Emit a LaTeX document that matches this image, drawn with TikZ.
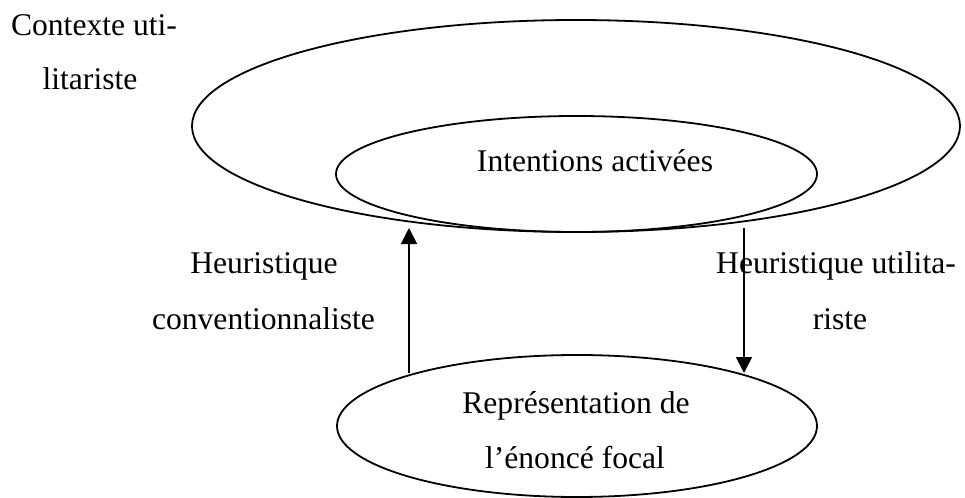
\documentclass[tikz,border=0pt]{standalone}
\usepackage{fontspec}
\setmainfont{Liberation Serif}
\usetikzlibrary{shapes.geometric,arrows.meta}
\begin{document}
\begin{tikzpicture}[x=0.5pt,y=-0.5pt,
  oval/.style={draw,ellipse,line width=0.9pt,inner sep=0pt},
  lbl/.style={anchor=base,inner sep=0pt,font=\fontsize{15.8pt}{19pt}\selectfont},
  arr/.style={line width=0.9pt,-{Triangle[length=8pt,width=8pt]}}]
\useasboundingbox (0,0) rectangle (965,498);
\node[oval,minimum width=384pt,minimum height=106pt] (ctx) at (576,126) {};
\node[oval,minimum width=240.5pt,minimum height=58pt] (int) at (576.5,174) {};
\node[oval,minimum width=240pt,minimum height=71pt] (rep) at (577,426) {};
\node[lbl] (c1) at (94,35) {Contexte uti-};
\node[lbl] (c2) at (90,90) {litariste};
\node[lbl] (i1) at (595,171) {Intentions activées};
\node[lbl] (r1) at (576,413) {Représentation de};
\node[lbl] (r2) at (575,468) {l’énoncé focal};
\node[lbl] (h1) at (264,273) {Heuristique};
\node[lbl] (h2) at (263.5,329) {conventionnaliste};
\node[lbl] (u1) at (836,273) {Heuristique utilita-};
\node[lbl] (u2) at (840,329) {riste};
\coordinate (upS) at (409,373);
\coordinate (upE) at (409,228);
\coordinate (dnS) at (744,228);
\coordinate (dnE) at (744,373);
\draw[arr] (upS) -- (upE);
\draw[arr] (dnS) -- (dnE);
\end{tikzpicture}
\end{document}
